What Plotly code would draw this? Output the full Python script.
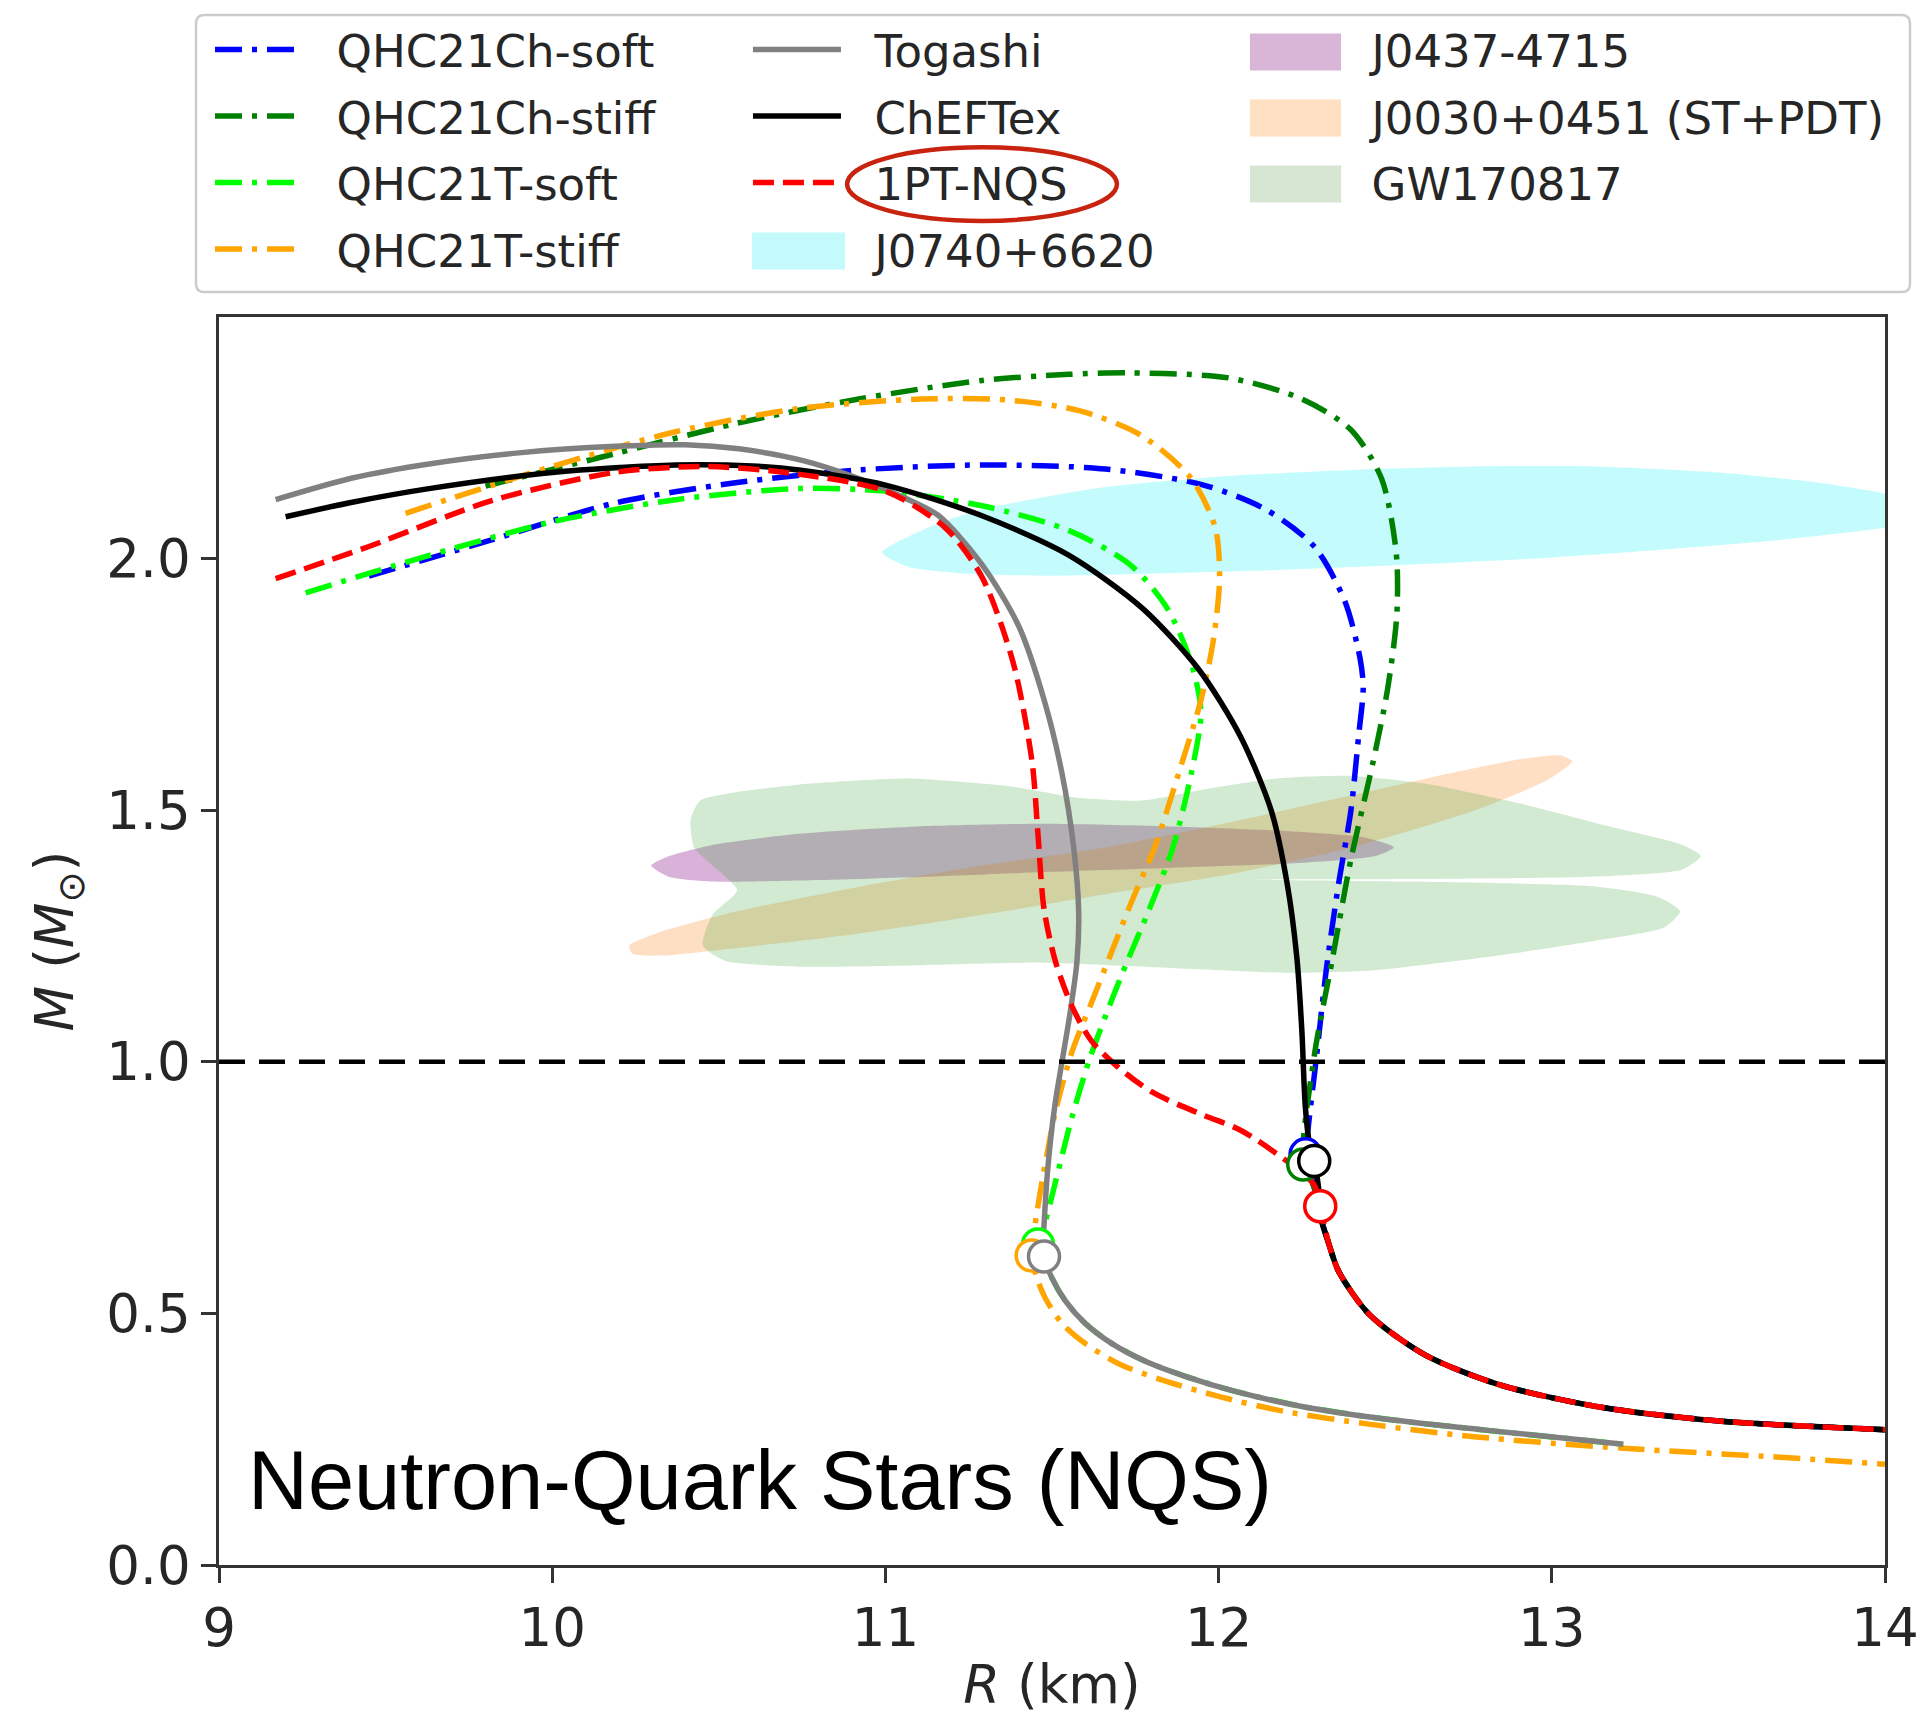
import plotly.graph_objects as go

# ---------------- data (R in km, M in solar masses) ----------------
X_TICKS = [9, 10, 11, 12, 13, 14]
Y_TICKS = [0.0, 0.5, 1.0, 1.5, 2.0]
MASS_LINE = 1.0

QHC_CH_SOFT_R = [9.45, 9.818, 10.186, 10.555, 10.92, 11.29, 11.66, 11.955, 12.14, 12.287, 12.379, 12.425,
                 12.434, 12.42, 12.397, 12.36, 12.323, 12.294, 12.268, 12.261,
                 12.287, 12.305, 12.33, 12.36, 12.452, 12.618, 12.839, 13.134, 13.503, 14.0]
QHC_CH_SOFT_M = [1.965, 2.037, 2.11, 2.151, 2.176, 2.186, 2.178, 2.146, 2.098, 2.024, 1.915, 1.80,
                 1.744, 1.646, 1.499, 1.353, 1.182, 1.011, 0.864, 0.816,
                 0.75, 0.694, 0.64, 0.584, 0.498, 0.418, 0.359, 0.315, 0.286, 0.269]

QHC_CH_STIFF_R = [9.80, 10.186, 10.555, 10.92, 11.29, 11.55, 11.734, 12.03, 12.25, 12.397, 12.489, 12.533,
                  12.535, 12.508, 12.464, 12.397, 12.342, 12.287, 12.254,
                  12.287, 12.305, 12.33, 12.36, 12.452, 12.618, 12.839, 13.134, 13.503, 14.0]
QHC_CH_STIFF_M = [2.144, 2.208, 2.269, 2.317, 2.354, 2.366, 2.369, 2.359, 2.317, 2.256, 2.159, 2.012,
                  1.89, 1.744, 1.597, 1.402, 1.206, 1.011, 0.796,
                  0.75, 0.694, 0.64, 0.584, 0.498, 0.418, 0.359, 0.315, 0.286, 0.269]

QHC_T_SOFT_R = [9.26, 9.634, 10.0, 10.37, 10.74, 11.0, 11.29, 11.55, 11.734, 11.845, 11.918, 11.947,
                11.918, 11.863, 11.79, 11.72, 11.66, 11.61, 11.56, 11.51, 11.475, 11.458,
                11.476, 11.50, 11.54, 11.60, 11.68, 11.78, 11.90, 12.05, 12.25, 12.50, 12.80, 13.215]
QHC_T_SOFT_M = [1.932, 2.007, 2.073, 2.117, 2.139, 2.134, 2.105, 2.056, 1.988, 1.902, 1.792, 1.695,
                1.573, 1.426, 1.30, 1.19, 1.09, 1.0, 0.89, 0.76, 0.67, 0.637,
                0.613, 0.57, 0.525, 0.48, 0.44, 0.405, 0.375, 0.345, 0.315, 0.29, 0.268, 0.240]

QHC_T_STIFF_R = [9.56, 10.0, 10.37, 10.74, 11.107, 11.366, 11.587, 11.77, 11.918, 11.99, 12.003, 11.985,
                 11.947, 11.88, 11.808, 11.74, 11.68, 11.62, 11.56, 11.51, 11.475, 11.45, 11.439,
                 11.455, 11.48, 11.53, 11.60, 11.70, 11.82, 12.0, 12.2, 12.45, 12.766, 13.215, 13.687, 14.0]
QHC_T_STIFF_M = [2.09, 2.183, 2.252, 2.298, 2.317, 2.315, 2.293, 2.244, 2.159, 2.061, 1.963, 1.841,
                 1.719, 1.573, 1.426, 1.32, 1.22, 1.12, 1.02, 0.90, 0.78, 0.68, 0.615,
                 0.57, 0.53, 0.48, 0.44, 0.40, 0.37, 0.335, 0.305, 0.28, 0.255, 0.232, 0.214, 0.20]

TOGASHI_R = [9.17, 9.40, 9.63, 9.90, 10.19, 10.40, 10.56, 10.75, 10.92, 11.06, 11.16, 11.29, 11.40, 11.476,
             11.53, 11.565, 11.58, 11.575, 11.555, 11.53, 11.51, 11.495, 11.48, 11.476,
             11.50, 11.54, 11.60, 11.68, 11.78, 11.90, 12.05, 12.25, 12.50, 12.80, 13.215]
TOGASHI_M = [2.117, 2.160, 2.188, 2.210, 2.223, 2.226, 2.218, 2.195, 2.159, 2.12, 2.085, 1.988, 1.866, 1.72,
             1.573, 1.426, 1.30, 1.20, 1.10, 1.00, 0.92, 0.84, 0.72, 0.613,
             0.57, 0.525, 0.48, 0.44, 0.405, 0.375, 0.345, 0.315, 0.29, 0.268, 0.240]

CHEFTEX_R = [9.20, 9.40, 9.63, 10.0, 10.37, 10.60, 10.74, 11.0, 11.29, 11.55, 11.77, 11.94, 12.066, 12.158,
             12.206, 12.235, 12.25, 12.26, 12.272, 12.287, 12.30, 12.305, 12.33, 12.36, 12.452, 12.618,
             12.839, 13.134, 13.503, 14.0]
CHEFTEX_M = [2.083, 2.112, 2.139, 2.171, 2.186, 2.184, 2.176, 2.146, 2.085, 2.007, 1.902, 1.78, 1.646, 1.499,
             1.353, 1.206, 1.06, 0.913, 0.84, 0.803, 0.75, 0.694, 0.64, 0.584, 0.498, 0.418,
             0.359, 0.315, 0.286, 0.269]

PT_NQS_R = [9.17, 9.45, 9.818, 10.186, 10.444, 10.70, 11.0, 11.18, 11.29, 11.384, 11.44, 11.458, 11.476,
            11.51, 11.56, 11.62, 11.697, 11.80, 11.95, 12.066, 12.21, 12.287, 12.305,
            12.33, 12.36, 12.452, 12.618, 12.839, 13.134, 13.503, 14.0]
PT_NQS_M = [1.96, 2.024, 2.115, 2.171, 2.183, 2.171, 2.134, 2.061, 1.963, 1.792, 1.597, 1.451, 1.304,
            1.20, 1.11, 1.04, 0.99, 0.94, 0.895, 0.864, 0.80, 0.755, 0.713,
            0.64, 0.584, 0.498, 0.418, 0.359, 0.315, 0.286, 0.269]

# onset points (open circles), order: Ch-soft, Ch-stiff, T-soft, T-stiff, Togashi, ChEFTex, 1PT-NQS
ONSET_R = [12.261, 12.254, 11.458, 11.439, 11.476, 12.287, 12.305]
ONSET_M = [0.816, 0.796, 0.637, 0.615, 0.613, 0.803, 0.713]

# observational constraints (contour outlines)
J0740_R = [10.99, 11.144, 11.292, 11.66, 12.029, 12.397, 12.766, 13.134, 13.503, 13.797, 14.0, 14.09,
           14.09, 14.0, 13.687, 13.318, 12.95, 12.581, 12.213, 11.845, 11.476, 11.218, 11.071, 10.99]
J0740_M = [2.012, 2.066, 2.098, 2.142, 2.164, 2.176, 2.183, 2.183, 2.171, 2.151, 2.129, 2.11,
           2.073, 2.061, 2.037, 2.017, 2.0, 1.988, 1.978, 1.971, 1.966, 1.971, 1.983, 2.012]

J0437_R = [10.297, 10.352, 10.481, 10.739, 11.108, 11.476, 11.845, 12.213, 12.434, 12.526, 12.471, 12.213,
           11.845, 11.476, 11.108, 10.739, 10.481, 10.352, 10.297]
J0437_M = [1.39, 1.409, 1.431, 1.453, 1.468, 1.473, 1.468, 1.458, 1.446, 1.426, 1.409, 1.394,
           1.385, 1.377, 1.367, 1.36, 1.358, 1.367, 1.39]

J0030_R = [10.231, 10.334, 10.555, 10.923, 11.292, 11.66, 12.029, 12.397, 12.692, 12.913, 13.024, 13.061,
           12.987, 12.766, 12.397, 12.029, 11.66, 11.292, 10.923, 10.555, 10.334, 10.242, 10.231]
J0030_M = [1.231, 1.26, 1.299, 1.348, 1.39, 1.426, 1.475, 1.529, 1.573, 1.602, 1.609, 1.597,
           1.56, 1.499, 1.426, 1.372, 1.333, 1.292, 1.255, 1.226, 1.211, 1.214, 1.231]

GW_R = [10.415, 10.444, 10.555, 10.776, 11.071, 11.366, 11.587, 11.771, 11.955, 12.176, 12.397, 12.618,
        12.913, 13.171, 13.392, 13.447, 13.392, 13.134, 12.581, 12.10, 12.581, 13.134, 13.318, 13.385,
        13.337, 13.134, 12.839, 12.471, 12.213, 11.845, 11.476, 11.108, 10.739, 10.518, 10.452, 10.481,
        10.555, 10.481, 10.426, 10.415]
GW_M = [1.48, 1.519, 1.536, 1.553, 1.563, 1.548, 1.524, 1.519, 1.541, 1.563, 1.568, 1.553,
        1.512, 1.468, 1.431, 1.409, 1.382, 1.368, 1.363, 1.362, 1.358, 1.348, 1.328, 1.299,
        1.267, 1.241, 1.211, 1.182, 1.177, 1.187, 1.197, 1.192, 1.189, 1.201, 1.231, 1.292,
        1.341, 1.39, 1.426, 1.48]

# ---------------- styles ----------------
FONT = "DejaVu Sans"
TXT = "#262626"
LW = 5.5
DASHDOT = "27px,10px,5px,10px"
DASHED = "21px,9px"
PAD = "\u00a0\u00a0"

# legend layout (paper coordinates)
LEG_X = [-0.0054, 0.3175, 0.6158]
LEG_TOP = 1.243
ROW_Y = [1.2123, 1.1595, 1.1066, 1.0529]   # centres of the legend rows
PATCH_HALF_H = 0.0148
PATCH_X = {"legend2": (0.320, 0.3758), "legend3": (0.6188, 0.6735)}

fig = go.Figure()
patch_shapes = []

def band(R, M, name, color, legend_color, legend, rank):
    fig.add_trace(go.Scatter(x=R, y=M, mode="lines", fill="toself", fillcolor=color,
                             line=dict(width=0, color=color, shape="spline", smoothing=0.6),
                             showlegend=False, hoverinfo="skip"))
    # legend entry: invisible sample, a filled patch is drawn as a shape on top
    fig.add_trace(go.Scatter(x=[None], y=[None], mode="lines", name=PAD + name, legend=legend,
                             legendrank=rank, legendgroup=name,
                             line=dict(color="rgba(0,0,0,0)", width=2)))
    x0, x1 = PATCH_X[legend]
    yc = ROW_Y[rank - 1]
    patch_shapes.append(dict(type="rect", xref="paper", yref="paper", x0=x0, x1=x1,
                             y0=yc - PATCH_HALF_H, y1=yc + PATCH_HALF_H,
                             fillcolor=legend_color, line=dict(width=0), layer="above"))

band(J0740_R, J0740_M, "J0740+6620", "rgba(0,240,250,0.23)", "rgb(196,250,252)", "legend2", 4)
band(J0437_R, J0437_M, "J0437-4715", "rgba(128,0,128,0.30)", "rgb(217,181,215)", "legend3", 1)
band(J0030_R, J0030_M, "J0030+0451 (ST+PDT)", "rgba(255,127,14,0.25)", "rgb(255,224,194)", "legend3", 2)
band(GW_R, GW_M, "GW170817", "rgba(44,160,44,0.22)", "rgb(214,230,211)", "legend3", 3)

def curve(R, M, name, color, dash, legend, rank):
    fig.add_trace(go.Scatter(x=R, y=M, mode="lines", name=PAD + name, legend=legend, legendrank=rank,
                             legendgroup=name,
                             line=dict(color=color, width=LW, dash=dash, shape="spline", smoothing=0.8)))

curve(QHC_CH_SOFT_R, QHC_CH_SOFT_M, "QHC21Ch-soft", "#0000ff", DASHDOT, "legend", 1)
curve(QHC_CH_STIFF_R, QHC_CH_STIFF_M, "QHC21Ch-stiff", "#008000", DASHDOT, "legend", 2)
curve(QHC_T_SOFT_R, QHC_T_SOFT_M, "QHC21T-soft", "#00ff00", DASHDOT, "legend", 3)
curve(QHC_T_STIFF_R, QHC_T_STIFF_M, "QHC21T-stiff", "#ffa500", DASHDOT, "legend", 4)
curve(TOGASHI_R, TOGASHI_M, "Togashi", "#808080", "solid", "legend2", 1)
curve(CHEFTEX_R, CHEFTEX_M, "ChEFTex", "#000000", "solid", "legend2", 2)
curve(PT_NQS_R, PT_NQS_M, "1PT-NQS", "#ff0000", DASHED, "legend2", 3)

ONSET_COLORS = ["#0000ff", "#008000", "#00ff00", "#ffa500", "#808080", "#000000", "#ff0000"]
fig.add_trace(go.Scatter(x=ONSET_R, y=ONSET_M, mode="markers", showlegend=False, hoverinfo="skip",
                         marker=dict(symbol="circle", size=31, color="white",
                                     line=dict(color=ONSET_COLORS, width=3.5))))

# horizontal reference line at 1 solar mass
fig.add_shape(type="line", xref="paper", x0=0, x1=1, yref="y", y0=MASS_LINE, y1=MASS_LINE,
              line=dict(color="black", width=4.5, dash="26px,14px"), layer="above")

# legend frame with rounded corners
fx0, fx1, fy0, fy1, rx, ry = -0.0138, 1.015, 1.020, 1.242, 0.005, 0.0067
frame_path = (f"M{fx0+rx},{fy0} L{fx1-rx},{fy0} Q{fx1},{fy0} {fx1},{fy0+ry} L{fx1},{fy1-ry} "
              f"Q{fx1},{fy1} {fx1-rx},{fy1} L{fx0+rx},{fy1} Q{fx0},{fy1} {fx0},{fy1-ry} "
              f"L{fx0},{fy0+ry} Q{fx0},{fy0} {fx0+rx},{fy0} Z")
fig.add_shape(type="path", xref="paper", yref="paper", path=frame_path,
              line=dict(color="#cccccc", width=2.5), fillcolor="white", layer="below")
for s in patch_shapes:
    fig.add_shape(**s)
# red ellipse around 1PT-NQS
fig.add_shape(type="circle", xref="paper", yref="paper", x0=0.377, x1=0.539, y0=1.077, y1=1.136,
              line=dict(color="#c8230f", width=4.5), layer="above")

fig.add_annotation(text="Neutron-Quark Stars (NQS)", xref="paper", yref="paper", x=0.016, y=0.068,
                   xanchor="left", yanchor="middle", showarrow=False,
                   font=dict(family="Liberation Sans, Arial", size=83, color="black"))

leg_common = dict(font=dict(family=FONT, size=45, color=TXT), bgcolor="rgba(0,0,0,0)",
                  borderwidth=0, yanchor="top", xanchor="left", y=LEG_TOP, traceorder="grouped",
                  itemwidth=88, tracegroupgap=5)
axis_common = dict(showgrid=False, zeroline=False, showline=True, mirror=True, linecolor="#333",
                   linewidth=2.5, ticks="outside", ticklen=15, tickwidth=2.5, tickcolor="#333",
                   tickfont=dict(family=FONT, size=53, color=TXT), automargin=False)
fig.update_layout(
    width=1926, height=1715,
    margin=dict(l=219, r=41, t=317, b=150),
    paper_bgcolor="white", plot_bgcolor="white",
    legend=dict(x=LEG_X[0], **leg_common),
    legend2=dict(x=LEG_X[1], **leg_common),
    legend3=dict(x=LEG_X[2], **leg_common),
    xaxis=dict(range=[9, 14], tickvals=X_TICKS, ticktext=[str(v) for v in X_TICKS],
               title=dict(text="<i>R</i> (km)", font=dict(family=FONT, size=53, color=TXT), standoff=12),
               **axis_common),
    yaxis=dict(range=[0, 2.48], tickvals=Y_TICKS, ticktext=[f"{v:.1f}" for v in Y_TICKS],
               title=dict(text="<i>M</i> (<i>M</i><sub>⊙</sub>)", font=dict(family=FONT, size=53, color=TXT),
                          standoff=16),
               **axis_common),
)

fig.write_html("out.html")
